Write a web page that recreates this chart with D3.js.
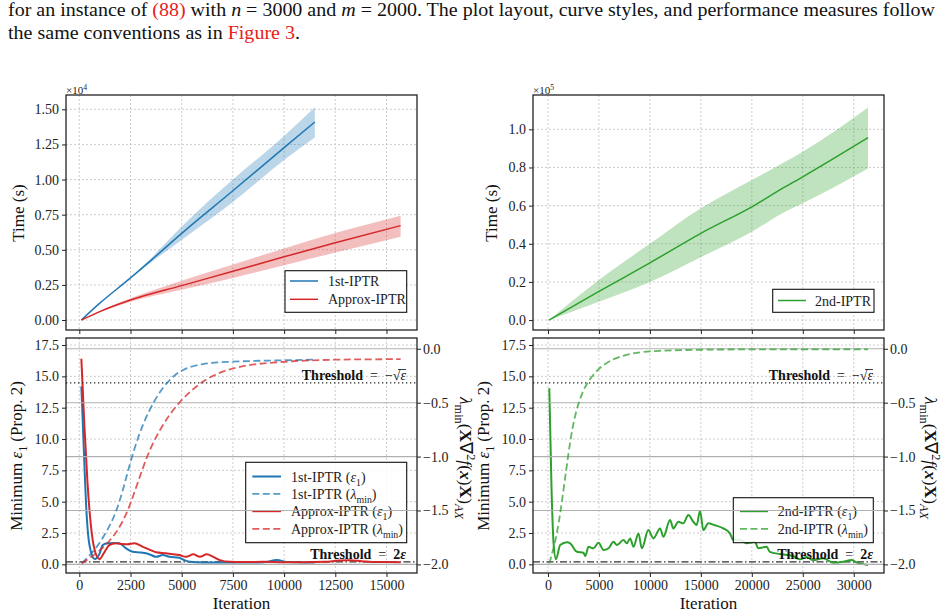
<!DOCTYPE html>
<html><head><meta charset="utf-8">
<script src="https://cdn.jsdelivr.net/npm/d3@7"></script>
<style>body{margin:0;background:#fff}svg{display:block}svg text{font-family:"Liberation Serif","Times New Roman",serif}</style>
</head><body><svg id="c" width="947" height="616"></svg>
<script>
// ---------------- DATA ----------------
// Top-left: time (x1e4 s) vs iteration
const itTime1 = [100, 1000, 2500, 3500, 5000, 7500, 10000, 11500];
const time1Mean = [0.0, 0.12, 0.30, 0.425, 0.617, 0.92, 1.227, 1.41];
const time1Low = [0.0, 0.12, 0.30, 0.41, 0.57, 0.84, 1.14, 1.30];
const time1High = [0.0, 0.12, 0.30, 0.44, 0.665, 1.00, 1.31, 1.515];
const itTimeA = [100, 1000, 2500, 5000, 7500, 10000, 12500, 15690];
const timeAMean = [0.0, 0.06, 0.142, 0.245, 0.347, 0.45, 0.55, 0.672];
const timeALow = [0.0, 0.055, 0.13, 0.215, 0.30, 0.39, 0.48, 0.593];
const timeAHigh = [0.0, 0.065, 0.155, 0.28, 0.395, 0.51, 0.62, 0.743];
// Top-right: time (x1e5 s)
const itTime2 = [100, 5000, 10000, 15000, 20000, 23000, 25000, 31400];
const time2Mean = [0.0, 0.15, 0.30, 0.455, 0.594, 0.69, 0.751, 0.956];
const time2Low = [0.0, 0.096, 0.20, 0.33, 0.463, 0.56, 0.612, 0.795];
const time2High = [0.0, 0.21, 0.40, 0.586, 0.734, 0.822, 0.883, 1.115];
// Bottom-left: epsilon_1 (left axis) and lambda_min (right axis)
const it1Eps = [100, 200, 360, 500, 750, 1000, 1140, 1390, 1700, 1950, 2280, 2610, 3000, 3260, 3500, 3750, 4070, 4400, 4880, 5130, 5400, 6000, 7000, 8000, 9000, 9640, 10200, 11000, 11500];
const eps1 = [14.2, 10.0, 3.9, 1.5, 0.42, 0.9, 1.54, 1.68, 1.7, 1.68, 1.28, 1.0, 0.95, 0.88, 0.75, 0.6, 0.74, 0.6, 0.53, 0.34, 0.2, 0.15, 0.15, 0.15, 0.16, 0.34, 0.18, 0.15, 0.15];
const itAEps = [100, 250, 400, 520, 700, 977, 1200, 1465, 1790, 2100, 2360, 2685, 3100, 3450, 3750, 4230, 4880, 5210, 5570, 5890, 6220, 6540, 6870, 7360, 8000, 9000, 10000, 11000, 12000, 12700, 13200, 13800, 14500, 15000, 15690];
const epsA = [16.4, 11.0, 6.5, 3.9, 1.5, 0.42, 0.9, 1.54, 1.68, 1.62, 1.6, 1.68, 1.4, 1.15, 0.96, 0.88, 0.74, 0.6, 0.8, 0.6, 0.8, 0.6, 0.34, 0.2, 0.18, 0.2, 0.17, 0.17, 0.2, 0.3, 0.32, 0.25, 0.18, 0.18, 0.17];
const it1Lam = [117, 600, 1010, 1500, 1826, 2150, 2476, 2800, 3125, 3600, 4102, 4600, 5078, 5908, 7505, 9000, 10500, 11500];
const lam1 = [-1.99, -1.90, -1.80, -1.64, -1.50, -1.30, -1.06, -0.86, -0.69, -0.50, -0.35, -0.25, -0.19, -0.135, -0.118, -0.11, -0.105, -0.10];
const itALam = [117, 600, 1000, 1500, 1900, 2314, 2700, 3125, 3500, 3940, 4400, 4917, 5400, 5894, 6500, 7197, 8000, 8823, 10777, 12500, 14000, 15690];
const lamA = [-1.99, -1.93, -1.87, -1.78, -1.68, -1.53, -1.33, -1.09, -0.91, -0.75, -0.61, -0.49, -0.40, -0.32, -0.25, -0.195, -0.16, -0.135, -0.11, -0.10, -0.098, -0.096];
// Bottom-right: 2nd-IPTR
const it2Eps = [130, 350, 550, 780, 1200, 1860, 2180, 2840, 3490, 3650, 3980, 4470, 4960, 5450, 5935, 6430, 6760, 7400, 7740, 8060, 8390, 8880, 9210, 9850, 10340, 11000, 11320, 11980, 12300, 12790, 13280, 13770, 14260, 14590, 14920, 15240, 15730, 16300, 17200, 17850, 18180, 18840, 19490, 20300, 20630, 21450, 21770, 22750, 24060, 24720, 25370, 26020, 27000, 27980, 28960, 29770, 30260, 31400];
const eps2 = [14.05, 6.0, 1.68, 0.4, 1.54, 1.76, 1.68, 1.0, 0.93, 0.66, 1.4, 1.28, 1.72, 1.14, 1.28, 1.8, 1.54, 1.94, 1.68, 2.07, 1.4, 2.47, 1.28, 2.74, 2.07, 2.87, 2.2, 3.54, 2.87, 3.4, 3.27, 3.93, 3.4, 3.14, 4.28, 2.74, 3.27, 3.14, 2.87, 2.47, 1.94, 1.94, 1.68, 1.8, 1.28, 1.4, 1.0, 0.82, 0.66, 0.4, 0.58, 0.34, 0.48, 0.13, 0.2, 0.34, 0.16, -0.05];
const it2Lam = [130, 880, 1530, 2180, 2600, 2990, 3400, 3810, 4800, 6100, 8060, 10670, 15000, 20000, 25000, 31400];
const lam2 = [-1.99, -1.745, -1.31, -0.845, -0.64, -0.505, -0.40, -0.32, -0.195, -0.102, -0.04, -0.016, -0.008, -0.005, -0.005, -0.005];
// Thresholds (epsilon = 0.1)
const thrEps = [0.2];
const thrLam = [-Math.sqrt(0.1)];
// Tick values
const xTicksL = [0, 2500, 5000, 7500, 10000, 12500, 15000];
const xTicksR = [0, 5000, 10000, 15000, 20000, 25000, 30000];
const yTicksTL = [0, 0.25, 0.5, 0.75, 1.0, 1.25, 1.5];
const yTicksTR = [0, 0.2, 0.4, 0.6, 0.8, 1.0];
const yTicksEps = [0, 2.5, 5, 7.5, 10, 12.5, 15, 17.5];
const yTicksLam = [0, -0.5, -1.0, -1.5, -2.0];

// ---------------- DRAW ----------------
const FONT = '"Liberation Serif","Times New Roman",serif';
const C1 = '#1f77b4', CA = '#d62728', C2 = '#2ca02c';
const svg = d3.select('#c').attr('font-family', FONT);
const defs = svg.append('defs');

const L = {x0: 66, x1: 417}, R = {x0: 533, x1: 884};
const T = {y0: 95, y1: 330}, B = {y0: 338, y1: 573};

const xL = d3.scaleLinear().domain([-650, 16490]).range([L.x0, L.x1]);
const xR = d3.scaleLinear().domain([-1469, 32968]).range([R.x0, R.x1]);
const yTL = d3.scaleLinear().domain([-0.071, 1.602]).range([T.y1, T.y0]);
const yTR = d3.scaleLinear().domain([-0.052, 1.18]).range([T.y1, T.y0]);
const yE = d3.scaleLinear().domain([-0.69, 18.06]).range([B.y1, B.y0]);
const yLm = d3.scaleLinear().domain([-2.08, 0.10]).range([B.y1, B.y0]);

function rich(sel, parts, fs) {
  let shift = 0;
  parts.forEach(p => {
    const ts = sel.append('tspan').text(p.t);
    const target = p.sub ? 0.3 * fs : (p.sup ? -0.4 * fs : 0);
    const dy = target - shift;
    if (dy) ts.attr('dy', dy);
    shift = target;
    if (p.sub || p.sup) ts.attr('font-size', fs * 0.7);
    if (p.i) ts.attr('font-style', 'italic');
    if (p.b) ts.attr('font-weight', 'bold');
    if (p.fill) ts.attr('fill', p.fill);
  });
  return sel;
}

function clipFor(id, xr, yr) {
  defs.append('clipPath').attr('id', id).append('rect')
    .attr('x', xr.x0).attr('y', yr.y0).attr('width', xr.x1 - xr.x0).attr('height', yr.y1 - yr.y0);
  return svg.append('g').attr('clip-path', `url(#${id})`);
}

function dotGrid(g, xs, ys, xt, yt, xr, yr) {
  g.selectAll(null).data(xt).join('line')
    .attr('x1', d => xs(d)).attr('x2', d => xs(d)).attr('y1', yr.y0).attr('y2', yr.y1)
    .attr('stroke', '#c0c0c0').attr('stroke-width', 0.8).attr('stroke-dasharray', '2,2');
  g.selectAll(null).data(yt).join('line')
    .attr('y1', d => ys(d)).attr('y2', d => ys(d)).attr('x1', xr.x0).attr('x2', xr.x1)
    .attr('stroke', '#c0c0c0').attr('stroke-width', 0.8).attr('stroke-dasharray', '2,2');
}

function zipPts(xsArr, ysArr) { return xsArr.map((v, i) => [v, ysArr[i]]); }

function band(g, xs, ys, it, lo, hi, color) {
  const pts = it.map((v, i) => ({x: v, lo: lo[i], hi: hi[i]}));
  g.append('path').datum(pts)
    .attr('d', d3.area().x(d => xs(d.x)).y0(d => ys(d.lo)).y1(d => ys(d.hi)).curve(d3.curveMonotoneX))
    .attr('fill', color).attr('fill-opacity', 0.3);
}
function line(g, xs, ys, it, vals, color, w, dash, op, curve) {
  g.append('path').datum(zipPts(it, vals))
    .attr('d', d3.line().x(d => xs(d[0])).y(d => ys(d[1])).curve(curve || d3.curveMonotoneX))
    .attr('fill', 'none').attr('stroke', color).attr('stroke-width', w)
    .attr('stroke-dasharray', dash || null).attr('stroke-opacity', op || 1)
    .attr('stroke-linejoin', 'round');
}

function styleAxis(a) {
  a.select('.domain').remove();
  a.selectAll('line').attr('stroke', '#222').attr('stroke-width', 1);
  a.selectAll('text').attr('font-family', FONT).attr('font-size', 14).attr('fill', '#222');
}

function spine(xr, yr) {
  svg.append('rect').attr('x', xr.x0).attr('y', yr.y0).attr('width', xr.x1 - xr.x0).attr('height', yr.y1 - yr.y0)
    .attr('fill', 'none').attr('stroke', '#222').attr('stroke-width', 1.3);
}

function legend(box, items, hx0, hx1, tx) {
  const g = svg.append('g');
  g.append('rect').attr('x', box[0]).attr('y', box[1]).attr('width', box[2] - box[0]).attr('height', box[3] - box[1])
    .attr('fill', '#fff').attr('fill-opacity', 0.85).attr('stroke', '#111').attr('stroke-width', 1.1);
  items.forEach(it => {
    g.append('line').attr('x1', hx0).attr('x2', hx1).attr('y1', it.y).attr('y2', it.y)
      .attr('stroke', it.color).attr('stroke-width', it.w).attr('stroke-dasharray', it.dash || null)
      .attr('stroke-opacity', it.op || 1);
    const t = g.append('text').attr('x', tx).attr('y', it.y + 5).attr('font-size', 14).attr('fill', '#222');
    rich(t, it.parts, 14);
  });
}

// ---------- caption ----------
rich(svg.append('text').attr('x', 8).attr('y', 16).attr('font-size', 18.5).attr('fill', '#111')
  .attr('font-family', FONT).attr('textLength', 927).attr('lengthAdjust', 'spacingAndGlyphs'), [
  {t: 'for an instance of '}, {t: '(88)', fill: '#e8201a'}, {t: ' with '}, {t: 'n', i: 1}, {t: ' = 3000 and '},
  {t: 'm', i: 1}, {t: ' = 2000. The plot layout, curve styles, and performance measures follow'}], 18.5);
rich(svg.append('text').attr('x', 8).attr('y', 39).attr('font-size', 18.5).attr('fill', '#111')
  .attr('font-family', FONT).attr('textLength', 292).attr('lengthAdjust', 'spacingAndGlyphs'), [
  {t: 'the same conventions as in '}, {t: 'Figure 3', fill: '#e8201a'}, {t: '.'}], 18.5);

// ---------- Top-left ----------
{
  const g = clipFor('cTL', L, T);
  dotGrid(g, xL, yTL, xTicksL, yTicksTL, L, T);
  band(g, xL, yTL, itTime1, time1Low, time1High, C1);
  band(g, xL, yTL, itTimeA, timeALow, timeAHigh, CA);
  line(g, xL, yTL, itTime1, time1Mean, C1, 1.5);
  line(g, xL, yTL, itTimeA, timeAMean, CA, 1.5);
  styleAxis(svg.append('g').attr('transform', `translate(${L.x0},0)`).call(d3.axisLeft(yTL).tickValues(yTicksTL).tickFormat(d3.format('.2f')).tickSize(4).tickPadding(3)));
  styleAxis(svg.append('g').attr('transform', `translate(0,${T.y1})`).call(d3.axisBottom(xL).tickValues(xTicksL).tickFormat('').tickSize(4)));
  spine(L, T);
  rich(svg.append('text').attr('x', 66).attr('y', 94).attr('font-size', 11).attr('fill', '#222'), [{t: '×10'}, {t: '4', sup: 1}], 11);
  svg.append('text').attr('transform', 'translate(24,213) rotate(-90)').attr('text-anchor', 'middle')
    .attr('font-size', 17).attr('fill', '#111').text('Time (s)');
  legend([285, 270.7, 406.7, 312.3], [
    {y: 281, color: C1, w: 1.5, parts: [{t: '1st-IPTR'}]},
    {y: 299.3, color: CA, w: 1.5, parts: [{t: 'Approx-IPTR'}]}], 290, 318, 328);
}

// ---------- Top-right ----------
{
  const g = clipFor('cTR', R, T);
  dotGrid(g, xR, yTR, xTicksR, yTicksTR, R, T);
  band(g, xR, yTR, itTime2, time2Low, time2High, C2);
  line(g, xR, yTR, itTime2, time2Mean, C2, 1.5);
  styleAxis(svg.append('g').attr('transform', `translate(${R.x0},0)`).call(d3.axisLeft(yTR).tickValues(yTicksTR).tickFormat(d3.format('.1f')).tickSize(4).tickPadding(3)));
  styleAxis(svg.append('g').attr('transform', `translate(0,${T.y1})`).call(d3.axisBottom(xR).tickValues(xTicksR).tickFormat('').tickSize(4)));
  spine(R, T);
  rich(svg.append('text').attr('x', 533).attr('y', 94).attr('font-size', 11).attr('fill', '#222'), [{t: '×10'}, {t: '5', sup: 1}], 11);
  svg.append('text').attr('transform', 'translate(497,213) rotate(-90)').attr('text-anchor', 'middle')
    .attr('font-size', 17).attr('fill', '#111').text('Time (s)');
  legend([772.7, 289.3, 874, 312.3], [
    {y: 300.5, color: C2, w: 1.5, parts: [{t: '2nd-IPTR'}]}], 778, 806, 815);
}

// ---------- Bottom panels ----------
function bottomPanel(id, xs, xr, xt, epsSeries, lamSeries, leg, thrEnd, labelX, rLabelX) {
  const g1 = clipFor(id + 'a', xr, B);
  dotGrid(g1, xs, yE, xt, yTicksEps, xr, B);
  g1.selectAll(null).data(thrEps).join('line').attr('x1', xr.x0).attr('x2', xr.x1)
    .attr('y1', d => yE(d)).attr('y2', d => yE(d))
    .attr('stroke', '#333').attr('stroke-width', 1.2).attr('stroke-dasharray', '7,2.5,1.5,2.5');
  epsSeries.forEach(s => line(g1, xs, yE, s.it, s.v, s.color, 2));
  legend(leg.box, leg.items, leg.hx0, leg.hx1, leg.tx);
  const g2 = clipFor(id + 'b', xr, B);
  g2.selectAll(null).data(yTicksLam).join('line').attr('x1', xr.x0).attr('x2', xr.x1)
    .attr('y1', d => yLm(d)).attr('y2', d => yLm(d)).attr('stroke', '#b0b0b0').attr('stroke-width', 1.1);
  g2.selectAll(null).data(thrLam).join('line').attr('x1', xr.x0).attr('x2', xr.x1)
    .attr('y1', d => yLm(d)).attr('y2', d => yLm(d))
    .attr('stroke', '#222').attr('stroke-width', 1.3).attr('stroke-dasharray', '1.3,2.7');
  lamSeries.forEach(s => line(g2, xs, yLm, s.it, s.v, s.color, 1.8, '7,3.5', 0.75, d3.curveBasis));
  // threshold labels
  rich(svg.append('text').attr('x', thrEnd).attr('y', 380).attr('text-anchor', 'end').attr('font-size', 14).attr('fill', '#111'),
    [{t: 'Threshold', b: 1}, {t: ' \u00A0=\u00A0 −√'}, {t: 'ε', i: 1}], 14);
  svg.append('line').attr('x1', thrEnd - 8).attr('x2', thrEnd).attr('y1', 369.5).attr('y2', 369.5)
    .attr('stroke', '#111').attr('stroke-width', 0.8);
  rich(svg.append('text').attr('x', thrEnd).attr('y', 559).attr('text-anchor', 'end').attr('font-size', 14).attr('fill', '#111'),
    [{t: 'Threshold', b: 1}, {t: ' \u00A0=\u00A0 '}, {t: '2', b: 1}, {t: 'ε', i: 1, b: 1}], 14);
  // axes
  styleAxis(svg.append('g').attr('transform', `translate(${xr.x0},0)`).call(d3.axisLeft(yE).tickValues(yTicksEps).tickFormat(d3.format('.1f')).tickSize(4).tickPadding(3)));
  styleAxis(svg.append('g').attr('transform', `translate(${xr.x1},0)`).call(d3.axisRight(yLm).tickValues(yTicksLam).tickFormat(d3.format('.1f')).tickSize(4).tickPadding(2)));
  styleAxis(svg.append('g').attr('transform', `translate(0,${B.y1})`).call(d3.axisBottom(xs).tickValues(xt).tickFormat(d3.format('d')).tickSize(4).tickPadding(3)));
  spine(xr, B);
  svg.append('text').attr('x', (xr.x0 + xr.x1) / 2).attr('y', 609).attr('text-anchor', 'middle')
    .attr('font-size', 17).attr('fill', '#111').text('Iteration');
  rich(svg.append('text').attr('transform', `translate(${labelX},456) rotate(-90)`).attr('text-anchor', 'middle')
    .attr('font-size', 17).attr('fill', '#111'),
    [{t: 'Minimum '}, {t: 'ε', i: 1}, {t: '1', sub: 1}, {t: ' (Prop. 2)'}], 17);
  rich(svg.append('text').attr('transform', `translate(${rLabelX},458) rotate(90)`).attr('text-anchor', 'middle')
    .attr('font-size', 17.5).attr('fill', '#111'),
    [{t: 'λ', i: 1}, {t: 'min', sub: 1}, {t: '('}, {t: 'X', b: 1}, {t: '∇'}, {t: '2', sup: 1}, {t: 'f', i: 1},
     {t: '('}, {t: 'x', b: 1, i: 1}, {t: ')'}, {t: 'X', b: 1}, {t: ')'}, {t: 'AX', sub: 1, i: 1}], 17.5);
}

bottomPanel('BL', xL, L, xTicksL,
  [{it: it1Eps, v: eps1, color: C1}, {it: itAEps, v: epsA, color: CA}],
  [{it: it1Lam, v: lam1, color: C1}, {it: itALam, v: lamA, color: CA}],
  {box: [245.7, 462.3, 406.7, 542.7], hx0: 252.3, hx1: 281, tx: 291, items: [
    {y: 476.5, color: C1, w: 2, parts: [{t: '1st-IPTR ('}, {t: 'ε', i: 1}, {t: '1', sub: 1}, {t: ')'}]},
    {y: 493.8, color: C1, w: 1.8, dash: '7,3.5', op: 0.75, parts: [{t: '1st-IPTR ('}, {t: 'λ', i: 1}, {t: 'min', sub: 1}, {t: ')'}]},
    {y: 511.2, color: CA, w: 2, parts: [{t: 'Approx-IPTR ('}, {t: 'ε', i: 1}, {t: '1', sub: 1}, {t: ')'}]},
    {y: 528.8, color: CA, w: 1.8, dash: '7,3.5', op: 0.75, parts: [{t: 'Approx-IPTR ('}, {t: 'λ', i: 1}, {t: 'min', sub: 1}, {t: ')'}]}]},
  406, 22, 460);

bottomPanel('BR', xR, R, xTicksR,
  [{it: it2Eps, v: eps2, color: C2}],
  [{it: it2Lam, v: lam2, color: C2}],
  {box: [733.3, 497.7, 873.3, 542.7], hx0: 740, hx1: 768, tx: 777.7, items: [
    {y: 511.2, color: C2, w: 2, parts: [{t: '2nd-IPTR ('}, {t: 'ε', i: 1}, {t: '1', sub: 1}, {t: ')'}]},
    {y: 528.8, color: C2, w: 1.8, dash: '7,3.5', op: 0.75, parts: [{t: '2nd-IPTR ('}, {t: 'λ', i: 1}, {t: 'min', sub: 1}, {t: ')'}]}]},
  873, 489, 925);
</script>
</body></html>
